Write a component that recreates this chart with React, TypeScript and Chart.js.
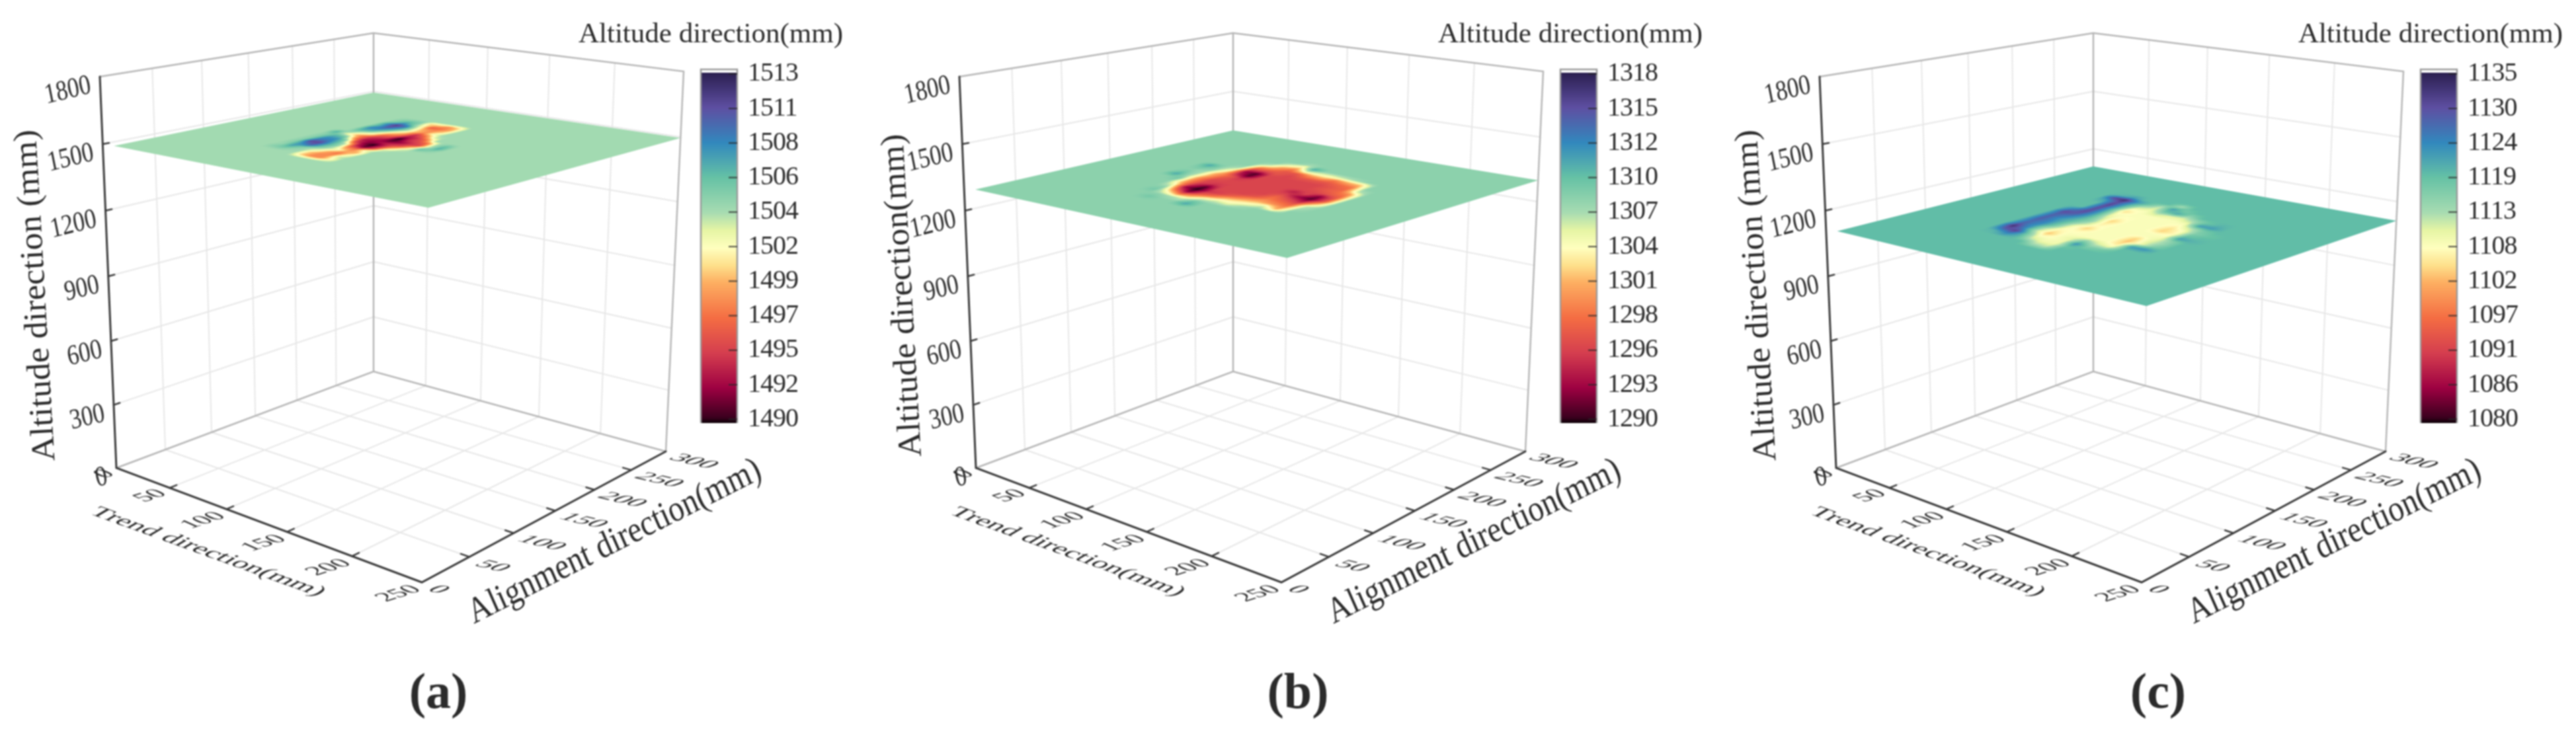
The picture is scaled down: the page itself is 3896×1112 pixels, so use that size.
import React, { useEffect, useRef } from "react";
import { Chart, registerables } from "chart.js";

Chart.register(...registerables);

const FONT = "'Liberation Serif'";
const INK = "#2b2b2b";
const WIDTH = 1295;
const HEIGHT = 1112;

const panelNames = ["(a)", "(b)", "(c)"];
const panelLeft = [0, 1300, 2601];
const trendTicks = [0, 50, 100, 150, 200, 250];
const alignTicks = [0, 50, 100, 150, 200, 250, 300];
const altitudeTicks = [0, 300, 600, 900, 1200, 1500, 1800];
const zAxisTitles = ["Altitude direction (mm)", "Altitude direction(mm)", "Altitude direction (mm)"];

const colorbarLabelsA = [1490, 1492, 1495, 1497, 1499, 1502, 1504, 1506, 1508, 1511, 1513];
const colorbarLabelsB = [1290, 1293, 1296, 1298, 1301, 1304, 1307, 1310, 1312, 1315, 1318];
const colorbarLabelsC = [1080, 1086, 1091, 1097, 1102, 1108, 1113, 1119, 1124, 1130, 1135];

const baseAltitude = [1504, 1308, 1119];

const trendNodesA = [75, 82.5, 90, 97.5, 105, 112.5, 120, 127.5, 135, 142.5, 150, 157.5];
const trendNodesB = [65, 75, 85, 95, 105, 115, 125, 135, 145, 155, 165, 175, 185];
const trendNodesC = [75, 85, 95, 105, 115, 125, 135, 145, 155, 165, 175, 185];
const alignNodes = [70, 80, 90, 100, 110, 120, 130, 140, 150, 160, 170, 180, 190, 200, 210, 220, 230];

const altitudeA = [
  [1504, 1505, 1504.5, 1505, 1505, 1505, 1505, 1505, 1507, 1504, 1504, 1504, 1504, 1504, 1504, 1504, 1504],
  [1504, 1505.5, 1507.5, 1508, 1511, 1509, 1508, 1506.5, 1503, 1505, 1507, 1508.5, 1507, 1508, 1505.5, 1505, 1504],
  [1504, 1504.5, 1505.5, 1510, 1511, 1509, 1508, 1505.5, 1500, 1502.5, 1506.5, 1508.5, 1510.5, 1511.5, 1508, 1505.5, 1504],
  [1504, 1504, 1504, 1506.5, 1507, 1506.5, 1505, 1498, 1497, 1501, 1503, 1506, 1508, 1509.5, 1505.5, 1505, 1504],
  [1500, 1500, 1502.5, 1504, 1504.5, 1503, 1495, 1493, 1494, 1496, 1499, 1502, 1504.5, 1503.5, 1502, 1500, 1504],
  [1498, 1498, 1499, 1502, 1498, 1494, 1492, 1492, 1493, 1495, 1497, 1499, 1500, 1499, 1496, 1500, 1504],
  [1498, 1498, 1497, 1499, 1497, 1491, 1490, 1493, 1491, 1490, 1493, 1494, 1498, 1498, 1497, 1498, 1504],
  [1501, 1503, 1501, 1499, 1502, 1495, 1494, 1494, 1492, 1494, 1494, 1497, 1502, 1500, 1499, 1500, 1504],
  [1504, 1504, 1504, 1504, 1504, 1503, 1499, 1495, 1494, 1495, 1497, 1503, 1504, 1504, 1504, 1504, 1504],
  [1504, 1504, 1504, 1504, 1504, 1504, 1503, 1500, 1495, 1497, 1504, 1504, 1504, 1504, 1504, 1504, 1504],
  [1504, 1504, 1504, 1504, 1504, 1504, 1504, 1506, 1503, 1504, 1504, 1504, 1504, 1504, 1504, 1504, 1504],
  [1504, 1504, 1504, 1504, 1504, 1504, 1504, 1505, 1507, 1506, 1504, 1504, 1504, 1504, 1504, 1504, 1504],
];

const altitudeB = [
  [1308, 1308, 1308, 1308, 1308, 1308, 1308, 1311, 1309, 1308, 1309, 1311, 1308, 1308, 1308, 1308, 1308],
  [1308, 1308, 1308, 1308, 1308, 1308, 1309, 1307, 1307, 1307, 1308, 1308, 1308, 1308, 1308, 1308, 1308],
  [1308, 1308, 1309, 1308, 1305, 1301, 1300, 1300, 1301, 1301, 1303, 1305, 1307, 1308, 1308, 1308, 1308],
  [1309, 1308, 1304, 1298, 1293, 1295, 1296, 1296, 1297, 1298, 1295, 1293, 1296, 1300, 1306, 1308, 1308],
  [1308, 1307, 1299, 1292, 1290, 1291, 1295, 1296, 1296, 1295, 1291, 1291, 1296, 1299, 1301, 1305, 1308],
  [1308, 1306, 1301, 1297, 1295, 1296, 1296, 1296, 1296, 1296, 1296, 1296, 1297, 1297, 1299, 1303, 1307],
  [1311, 1309, 1305, 1299, 1296, 1296, 1296, 1296, 1296, 1296, 1296, 1296, 1296, 1297, 1305, 1311, 1308],
  [1308, 1308, 1306, 1302, 1298, 1296, 1296, 1296, 1296, 1296, 1296, 1296, 1297, 1300, 1305, 1308, 1308],
  [1308, 1308, 1305, 1303, 1300, 1297, 1296, 1296, 1296, 1296, 1296, 1296, 1297, 1301, 1305, 1308, 1308],
  [1308, 1308, 1307, 1304, 1301, 1299, 1298, 1296, 1294, 1296, 1296, 1296, 1297, 1299, 1306, 1308, 1308],
  [1308, 1308, 1308, 1306, 1300, 1298, 1296, 1293, 1296, 1296, 1297, 1297, 1298, 1301, 1307, 1308, 1308],
  [1308, 1308, 1308, 1301, 1299, 1297, 1294, 1291, 1292, 1297, 1298, 1298, 1299, 1302, 1308, 1308, 1308],
  [1308, 1308, 1308, 1308, 1307, 1306, 1301, 1297, 1297, 1298, 1300, 1306, 1308, 1308, 1308, 1308, 1308],
];

const altitudeC = [
  [1119, 1120, 1128, 1133, 1128, 1127, 1128, 1128, 1128, 1130, 1125, 1119, 1119, 1119, 1122, 1130, 1120],
  [1119, 1124, 1131, 1124, 1123, 1124, 1124, 1123, 1125, 1128, 1130, 1130, 1130, 1131, 1130, 1133, 1122],
  [1119, 1120, 1118, 1112, 1113, 1117, 1118, 1119, 1120, 1121, 1121, 1120, 1119, 1120, 1121, 1123, 1119],
  [1119, 1112, 1108, 1103, 1106, 1108, 1109, 1113, 1115, 1113, 1110, 1108, 1105, 1108, 1113, 1118, 1119],
  [1113, 1109, 1108, 1108, 1108, 1107, 1104, 1107, 1106, 1104, 1107, 1108, 1108, 1108, 1110, 1112, 1119],
  [1112, 1109, 1109, 1110, 1108, 1108, 1108, 1108, 1108, 1108, 1108, 1108, 1108, 1112, 1118, 1122, 1113],
  [1119, 1118, 1123, 1116, 1108, 1108, 1108, 1108, 1108, 1108, 1108, 1108, 1108, 1110, 1121, 1117, 1119],
  [1119, 1119, 1116, 1111, 1108, 1108, 1108, 1108, 1108, 1108, 1108, 1108, 1108, 1110, 1115, 1119, 1119],
  [1119, 1119, 1117, 1109, 1105, 1103, 1104, 1108, 1108, 1104, 1105, 1107, 1109, 1114, 1119, 1119, 1119],
  [1119, 1119, 1119, 1119, 1122, 1109, 1110, 1109, 1108, 1107, 1108, 1112, 1122, 1118, 1119, 1119, 1119],
  [1119, 1119, 1119, 1119, 1123, 1116, 1114, 1115, 1122, 1118, 1116, 1117, 1122, 1120, 1119, 1119, 1119],
  [1119, 1119, 1119, 1119, 1119, 1119, 1119, 1119, 1120, 1119, 1118, 1119, 1119, 1119, 1119, 1119, 1119],
];

const surfaces = [altitudeA, altitudeB, altitudeC];
const surfaceTrendNodes = [trendNodesA, trendNodesB, trendNodesC];
const colorbarLabels = [colorbarLabelsA, colorbarLabelsB, colorbarLabelsC];

// Camera of the 3D box: where its corners land on the picture.
type Pt = [number, number];
const floorCorners: Pt[] = [[176, 708], [638, 881], [1007, 683], [565, 562]];
const topCorners: Pt[] = [[151, 116], [650, 198], [1034, 108], [565, 50]];
const verticalPerspective = 0.96;
const surfaceNudge: Pt[] = [[17, 4], [0, 0], [0, 3], [0, 3]];
const TREND_MAX = 250;
const ALIGN_MAX = 300;
const ALT_MAX = 1800;

const spectral: [number, number, number, number][] = [
  [0, 0x2b, 0x1f, 0x50],
  [0.1, 0x5e, 0x4f, 0xa2],
  [0.2, 0x32, 0x88, 0xbd],
  [0.3, 0x66, 0xc2, 0xa5],
  [0.4, 0xa8, 0xdc, 0xb2],
  [0.45, 0xe6, 0xf5, 0xa4],
  [0.5, 0xff, 0xff, 0xbf],
  [0.55, 0xfe, 0xe0, 0x8b],
  [0.6, 0xfd, 0xae, 0x61],
  [0.7, 0xf4, 0x6d, 0x43],
  [0.8, 0xd5, 0x3e, 0x4f],
  [0.9, 0x9e, 0x01, 0x42],
  [0.985, 0x3a, 0x00, 0x1e],
  [1, 0x0a, 0x00, 0x05],
];

function colorAt(f: number): [number, number, number] {
  const t = Math.max(0, Math.min(1, f));
  for (let i = 1; i < spectral.length; i++) {
    if (t <= spectral[i][0]) {
      const p = spectral[i - 1];
      const q = spectral[i];
      const w = (t - p[0]) / (q[0] - p[0]);
      return [p[1] + (q[1] - p[1]) * w, p[2] + (q[2] - p[2]) * w, p[3] + (q[3] - p[3]) * w];
    }
  }
  const e = spectral[spectral.length - 1];
  return [e[1], e[2], e[3]];
}

// Homography of the unit square onto a quad (s,r): (0,0) (1,0) (1,1) (0,1)
function squareToQuad(q: Pt[]) {
  const [L, F, R, B] = q;
  const dx1 = F[0] - R[0], dy1 = F[1] - R[1];
  const dx2 = B[0] - R[0], dy2 = B[1] - R[1];
  const sx = L[0] - F[0] + R[0] - B[0], sy = L[1] - F[1] + R[1] - B[1];
  const det = dx1 * dy2 - dx2 * dy1;
  const g = (sx * dy2 - dx2 * sy) / det;
  const h = (dx1 * sy - sx * dy1) / det;
  return {
    a: F[0] - L[0] + g * F[0], b: B[0] - L[0] + h * B[0], c: L[0],
    d: F[1] - L[1] + g * F[1], e: B[1] - L[1] + h * B[1], f: L[1],
    g, h,
  };
}
type H = ReturnType<typeof squareToQuad>;
function applyH(m: H, s: number, r: number): Pt {
  const w = m.g * s + m.h * r + 1;
  return [(m.a * s + m.b * r + m.c) / w, (m.d * s + m.e * r + m.f) / w];
}
const floorH = squareToQuad(floorCorners);
const topH = squareToQuad(topCorners);

function project(trend: number, align: number, altitude: number): Pt {
  const s = trend / TREND_MAX, r = align / ALIGN_MAX, u = altitude / ALT_MAX;
  const k = verticalPerspective;
  const t = (k * u) / (1 + (k - 1) * u);
  const p = applyH(floorH, s, r), q = applyH(topH, s, r);
  return [p[0] + (q[0] - p[0]) * t, p[1] + (q[1] - p[1]) * t];
}

function line(pts: [number, number, number][], color: string, width: number, order: number) {
  return {
    data: pts.map((p) => {
      const [x, y] = project(p[0], p[1], p[2]);
      return { x, y };
    }),
    borderColor: color,
    backgroundColor: color,
    borderWidth: width,
    showLine: true,
    pointRadius: 0,
    pointHoverRadius: 0,
    tension: 0,
    fill: false,
    order,
    clip: false,
    borderCapStyle: "round",
  };
}

function buildBoxDatasets() {
  const out: any[] = [];
  const GRID = "#e7e7e7", EDGE = "#b6b6b6", AXIS = "#3a3a3a";
  const TT = TREND_MAX, AA = ALIGN_MAX, ZZ = ALT_MAX;
  for (const t of trendTicks.slice(1, -1)) {
    out.push(line([[t, 0, 0], [t, AA, 0]], GRID, 2, 3));
    out.push(line([[t, AA, 0], [t, AA, ZZ]], GRID, 2, 3));
  }
  for (const a of alignTicks.slice(1, -1)) {
    out.push(line([[0, a, 0], [TT, a, 0]], GRID, 2, 3));
    out.push(line([[0, a, 0], [0, a, ZZ]], GRID, 2, 3));
  }
  for (const z of altitudeTicks.slice(1, -1)) {
    out.push(line([[0, 0, z], [0, AA, z]], GRID, 2, 3));
    out.push(line([[0, AA, z], [TT, AA, z]], GRID, 2, 3));
  }
  out.push(line([[0, 0, ZZ], [0, AA, ZZ], [TT, AA, ZZ], [TT, AA, 0]], EDGE, 2.5, 2));
  out.push(line([[0, AA, 0], [0, AA, ZZ]], EDGE, 2.5, 2));
  out.push(line([[0, 0, 0], [0, AA, 0], [TT, AA, 0]], EDGE, 2.5, 2));
  out.push(line([[0, 0, ZZ], [0, 0, 0], [TT, 0, 0], [TT, AA, 0]], AXIS, 3, 1));
  for (const t of trendTicks.slice(1, -1)) out.push(line([[t, 0, 0], [t, 7, 0]], AXIS, 2.5, 1));
  for (const a of alignTicks.slice(1, -1)) out.push(line([[TT, a, 0], [TT - 6, a, 0]], AXIS, 2.5, 1));
  for (const z of altitudeTicks.slice(1, -1)) out.push(line([[0, 0, z], [0, 6, z]], AXIS, 2.5, 1));
  return out;
}

function put(ctx: any, text: string, x: number, y: number, font: string, m: number[], align = "center") {
  ctx.save();
  ctx.translate(x, y);
  ctx.transform(m[0], m[1], m[2], m[3], 0, 0);
  ctx.font = font;
  ctx.textAlign = align;
  ctx.textBaseline = "middle";
  ctx.fillStyle = INK;
  ctx.fillText(text, 0, 0);
  ctx.restore();
}

function drawSurface(chart: any, idx: number) {
  const xs = chart.scales.x, ys = chart.scales.y;
  const base = baseAltitude[idx];
  const cornersData: [number, number][] = [[0, 0], [TREND_MAX, 0], [TREND_MAX, ALIGN_MAX], [0, ALIGN_MAX]];
  const quad: Pt[] = cornersData.map((c, i) => {
    const p = project(c[0], c[1], base);
    return [xs.getPixelForValue(p[0] + surfaceNudge[i][0]), ys.getPixelForValue(p[1] + surfaceNudge[i][1])] as Pt;
  });
  const m = squareToQuad(quad);
  // inverse of [[a,b,c],[d,e,f],[g,h,1]]
  const A = m.e - m.f * m.h, B = m.c * m.h - m.b, C = m.b * m.f - m.c * m.e;
  const D = m.f * m.g - m.d, E = m.a - m.c * m.g, F = m.c * m.d - m.a * m.f;
  const G = m.d * m.h - m.e * m.g, I = m.b * m.g - m.a * m.h, J = m.a * m.e - m.b * m.d;

  const x0 = Math.floor(Math.min(...quad.map((q) => q[0]))) - 1;
  const x1 = Math.ceil(Math.max(...quad.map((q) => q[0]))) + 1;
  const y0 = Math.floor(Math.min(...quad.map((q) => q[1]))) - 1;
  const y1 = Math.ceil(Math.max(...quad.map((q) => q[1]))) + 1;
  const w = x1 - x0, h = y1 - y0;
  const off = document.createElement("canvas");
  off.width = w;
  off.height = h;
  const octx = off.getContext("2d")!;
  const img = octx.createImageData(w, h);

  const grid = surfaces[idx];
  const tn = surfaceTrendNodes[idx];
  const labels = colorbarLabels[idx];
  const lo = labels[0], hi = labels[labels.length - 1];
  const t0 = tn[0], dt = tn[1] - tn[0];
  const a0 = alignNodes[0], da = alignNodes[1] - alignNodes[0];
  const node = (i: number, j: number) =>
    i >= 0 && i < grid.length && j >= 0 && j < grid[0].length ? grid[i][j] : base;

  for (let py = 0; py < h; py++) {
    for (let px = 0; px < w; px++) {
      const X = px + x0 + 0.5, Y = py + y0 + 0.5;
      const den = G * X + I * Y + J;
      const s = Math.max(0, Math.min(1, (A * X + B * Y + C) / den));
      const r = Math.max(0, Math.min(1, (D * X + E * Y + F) / den));
      const fi = (s * TREND_MAX - t0) / dt;
      const fj = (r * ALIGN_MAX - a0) / da;
      const i = Math.floor(fi), j = Math.floor(fj);
      const u = fi - i, v = fj - j;
      const val =
        node(i, j) * (1 - u) * (1 - v) + node(i + 1, j) * u * (1 - v) + node(i, j + 1) * (1 - u) * v + node(i + 1, j + 1) * u * v;
      const c = colorAt((hi - val) / (hi - lo));
      const o = (py * w + px) * 4;
      img.data[o] = c[0];
      img.data[o + 1] = c[1];
      img.data[o + 2] = c[2];
      img.data[o + 3] = 255;
    }
  }
  octx.putImageData(img, 0, 0);
  const ctx = chart.ctx;
  ctx.save();
  ctx.beginPath();
  quad.forEach((q, i) => (i ? ctx.lineTo(q[0], q[1]) : ctx.moveTo(q[0], q[1])));
  ctx.closePath();
  ctx.clip();
  ctx.drawImage(off, x0, y0);
  ctx.restore();
}

function drawLabels(chart: any, idx: number) {
  const ctx = chart.ctx;
  const xs = chart.scales.x, ys = chart.scales.y;
  const at = (t: number, a: number, z: number, dx: number, dy: number): Pt => {
    const p = project(t, a, z);
    return [xs.getPixelForValue(p[0]) + dx, ys.getPixelForValue(p[1]) + dy];
  };
  // altitude ticks
  for (const z of altitudeTicks) {
    const p = at(0, 0, z, -14, 13);
    put(ctx, String(z), p[0], p[1], `42px ${FONT}`, [0.82, -0.2, 0.2, 1], "right");
  }
  // trend ticks, lying on the floor
  const trendOff: Record<number, Pt> = { 1: [-18, 9], 2: [-29, 12], 3: [-35, 17] };
  for (const t of trendTicks) {
    const s = String(t);
    const o = trendOff[s.length];
    const p = at(t, 0, 0, o[0], o[1]);
    put(ctx, s, p[0], p[1], `32px ${FONT}`, [1.15, -0.37, 0.99, 0.44]);
  }
  // alignment ticks, lying on the floor
  const alignOff: Record<number, Pt> = { 1: [25, 11], 2: [35, 14], 3: [42, 15] };
  for (const a of alignTicks) {
    const s = String(a);
    const o = alignOff[s.length];
    const p = at(TREND_MAX, a, 0, o[0], o[1]);
    put(ctx, s, p[0], p[1], `32px ${FONT}`, [1.3, 0.31, -0.98, 0.41]);
  }
  // axis titles
  put(ctx, "Trend direction(mm)", 314, 835, `30px ${FONT}`, [1.38, 0.5, -0.95, 0.56]);
  put(ctx, "Alignment direction(mm)", 930, 820, `50px ${FONT}`, [0.85, -0.43, 0.44, 1.0]);
  const zx = idx === 1 ? 66 : idx === 2 ? 57 : 55;
  put(ctx, zAxisTitles[idx], zx, 447, `50px ${FONT}`, [-0.06, -1.05, 0.998, -0.057]);
  // colour bar title and panel name
  put(ctx, "Altitude direction(mm)", 1075, 53, `43px ${FONT}`, [1, 0, 0, 1]);
  put(ctx, panelNames[idx], 663, 1051, `bold 76px ${FONT}`, [1, 0, 0, 1]);
}

function makePlot(canvas: HTMLCanvasElement, idx: number) {
  const plugin = {
    id: "box3d",
    afterDatasetsDraw(chart: any) {
      drawSurface(chart, idx);
      drawLabels(chart, idx);
    },
  };
  return new Chart(canvas, {
    type: "scatter",
    data: { datasets: buildBoxDatasets() },
    options: {
      animation: false,
      responsive: false,
      devicePixelRatio: 1,
      layout: { padding: 0 },
      plugins: { legend: { display: false }, tooltip: { enabled: false } },
      scales: {
        x: { type: "linear", min: 0, max: WIDTH, display: false },
        y: { type: "linear", min: 0, max: HEIGHT, reverse: true, display: false },
      },
    } as any,
    plugins: [plugin],
  } as any);
}

function makeColorbar(canvas: HTMLCanvasElement, idx: number) {
  const labels = colorbarLabels[idx];
  const lo = labels[0], hi = labels[labels.length - 1];
  const span = hi - lo;
  const barPlugin = {
    id: "barFrame",
    beforeDraw(chart: any) {
      chart.ctx.letterSpacing = "-1px";
    },
    afterDatasetsDraw(chart: any) {
      const { ctx, chartArea: ca, scales } = chart;
      ctx.save();
      ctx.strokeStyle = "#9a9a9a";
      ctx.lineWidth = 2.5;
      ctx.beginPath();
      ctx.moveTo(ca.left, ca.bottom);
      ctx.lineTo(ca.left, ca.top - 5);
      ctx.lineTo(ca.right, ca.top - 5);
      ctx.lineTo(ca.right, ca.bottom);
      ctx.stroke();
      ctx.strokeStyle = "rgba(40,40,40,0.8)";
      ctx.lineWidth = 2;
      for (const t of scales.y.ticks) {
        const y = scales.y.getPixelForValue(t.value);
        ctx.beginPath();
        ctx.moveTo(ca.right - 13, y);
        ctx.lineTo(ca.right, y);
        ctx.stroke();
      }
      ctx.restore();
    },
  };
  return new Chart(canvas, {
    type: "bar",
    data: {
      labels: ["Altitude direction(mm)"],
      datasets: [
        {
          data: [[lo - (6 / 550) * span, hi + (2 / 550) * span]],
          barPercentage: 1,
          categoryPercentage: 1,
          borderWidth: 0,
          backgroundColor: (c: any) => {
            const ca = c.chart.chartArea;
            if (!ca) return "#888";
            const g = c.chart.ctx.createLinearGradient(0, ca.top, 0, ca.bottom);
            for (const st of spectral) g.addColorStop(st[0], `rgb(${st[1]},${st[2]},${st[3]})`);
            return g;
          },
        },
      ],
    },
    options: {
      animation: false,
      responsive: false,
      devicePixelRatio: 1,
      layout: { padding: { left: 20, top: 34, bottom: 18, right: 0 } },
      plugins: { legend: { display: false }, tooltip: { enabled: false } },
      scales: {
        x: { display: false },
        y: {
          type: "linear",
          position: "right",
          min: lo - (6 / 550) * span,
          max: hi + (2 / 550) * span,
          grid: { display: false, drawTicks: false },
          border: { display: false },
          afterFit: (s: any) => {
            s.width = 115;
          },
          afterBuildTicks: (s: any) => {
            s.ticks = labels.map((_, i) => ({ value: lo + (i * span) / (labels.length - 1) }));
          },
          ticks: {
            autoSkip: false,
            padding: 16,
            color: INK,
            font: { family: "Liberation Serif", size: 40 },
            callback: (_v: any, i: number) => labels[i],
          },
        },
      },
    } as any,
    plugins: [barPlugin],
  } as any);
}

function Panel({ idx }: { idx: number }) {
  const plotRef = useRef<HTMLCanvasElement>(null);
  const barRef = useRef<HTMLCanvasElement>(null);
  useEffect(() => {
    const a = makePlot(plotRef.current!, idx);
    const b = makeColorbar(barRef.current!, idx);
    return () => {
      a.destroy();
      b.destroy();
    };
  }, [idx]);
  const blur = "blur(0.9px)";
  return (
    <>
      <canvas
        ref={plotRef}
        width={WIDTH}
        height={HEIGHT}
        style={{ position: "absolute", left: panelLeft[idx], top: 0, width: WIDTH, height: HEIGHT, filter: blur }}
      />
      <canvas
        ref={barRef}
        width={190}
        height={610}
        style={{ position: "absolute", left: panelLeft[idx] + 1040, top: 70, width: 190, height: 610, filter: blur }}
      />
    </>
  );
}

export default function App() {
  return (
    <div style={{ position: "absolute", left: 0, top: 0, width: 3896, height: 1112, overflow: "hidden", background: "#fff" }}>
      {panelNames.map((_, i) => (
        <Panel key={i} idx={i} />
      ))}
    </div>
  );
}
